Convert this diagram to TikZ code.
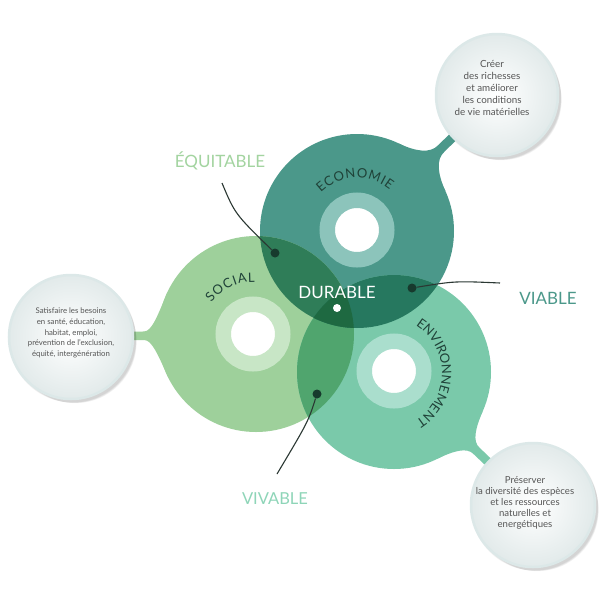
\documentclass[tikz,border=0pt]{standalone}
\usepackage{fontspec}
\setmainfont{Lato}
\usetikzlibrary{decorations.text}
\definecolor{ecoC}{HTML}{4B988A}
\definecolor{socC}{HTML}{9ED09B}
\definecolor{envC}{HTML}{7AC9AA}
\definecolor{esC}{HTML}{2F7D58}
\definecolor{evC}{HTML}{26785F}
\definecolor{svC}{HTML}{50A56E}
\definecolor{esvC}{HTML}{1E6941}
\definecolor{ecoR}{HTML}{8CC4BB}
\definecolor{socR}{HTML}{C8E6C6}
\definecolor{envR}{HTML}{AADECD}
\definecolor{arcT}{HTML}{1F4238}
\definecolor{lineC}{HTML}{2B3833}
\definecolor{dotC}{HTML}{173A2D}
\definecolor{bubT}{HTML}{555555}
\definecolor{bubB}{HTML}{DCE8E8}
\definecolor{bubO}{HTML}{E2EAEA}
\definecolor{equiC}{HTML}{A3D4A0}
\definecolor{viabC}{HTML}{4B988A}
\definecolor{vivaC}{HTML}{8ED5B8}
% tail: color, cx, cy, r, axis angle, half spread, neck dist, end dist
\newcommand{\mytail}[8]{%
  \begin{scope}[shift={(#2,#3)}]
    \fill[#1] ({#5-#6}:#4) .. controls ({#5-0.45*#6}:{1.02*#4}) and ({#5-2.2}:{#4+0.45*(#7-#4)}) .. ({#5-2.2}:#7)
      -- ({#5-1.7}:#8) -- ({#5+1.7}:#8) -- ({#5+2.2}:#7)
      .. controls ({#5+2.2}:{#4+0.45*(#7-#4)}) and ({#5+0.45*#6}:{1.02*#4}) .. ({#5+#6}:#4) -- cycle;
  \end{scope}}
\newcommand{\bubshadow}[3]{%
  \foreach \k in {0,1,2,3}{\fill[black,opacity=0.045] ({#1+1.5+\k},{#2+2+\k}) circle[radius={#3+1.5-\k*0.8}];}}
\begin{document}
\begin{tikzpicture}[x=1pt,y=-1pt,
  ringnode/.style={circle, inner sep=0pt, fill=white, line width=15.5pt, minimum size=59.5pt},
  dotnode/.style={circle, inner sep=0pt, fill=dotC, minimum size=9pt},
  conn/.style={draw=lineC, line width=1.1pt},
  bubble/.style={circle, inner sep=0pt, minimum size=122pt, inner color=white, outer color=bubO, draw=bubB, line width=2.5pt},
  btext/.style={align=center, text=bubT, inner sep=0pt},
  biglabel/.style={inner sep=0pt, font=\fontsize{17}{20}\selectfont},
]
\useasboundingbox (0,0) rectangle (600,600);
\fill[white] (0,0) rectangle (600,600);

\coordinate (E) at (357,231);
\coordinate (S) at (256,334);
\coordinate (V) at (394,372);

% tails
\mytail{ecoC}{357}{231}{97}{-44.4}{20}{118}{150}
\mytail{socC}{256}{334}{98}{179.1}{26}{112}{135}
\mytail{envC}{394}{372}{97}{43.7}{20}{114}{145}

% circles
\fill[ecoC] (E) circle[radius=97pt];
\fill[socC] (S) circle[radius=98pt];
\fill[envC] (V) circle[radius=97pt];

% overlaps
\begin{scope}
  \clip (S) circle[radius=98pt];
  \fill[svC] (V) circle[radius=97pt];
\end{scope}
\begin{scope}
  \clip (E) circle[radius=97pt];
  \fill[esC] (S) circle[radius=98pt];
  \fill[evC] (V) circle[radius=97pt];
  \clip (S) circle[radius=98pt];
  \fill[esvC] (V) circle[radius=97pt];
\end{scope}

% rings
\node[ringnode, draw=ecoR] (ecoring) at (357,230) {};
\node[ringnode, draw=socR] (socring) at (253,334) {};
\node[ringnode, draw=envR] (envring) at (394,371) {};

% curved titles
\path[decorate, decoration={text along path, text align={fit to path},
  text={|\fontsize{13}{15}\selectfont\color{arcT}|ECONOMIE}}]
  (357,230) ++(-134:52) arc[start angle=-134, end angle=-51, radius=52];
\path[decorate, decoration={text along path, text align={fit to path},
  text={|\fontsize{13}{15}\selectfont\color{arcT}|SOCIAL}}]
  (253,334) ++(-143:52) arc[start angle=-143, end angle=-88, radius=52];
\path[decorate, decoration={text along path, text align={fit to path},
  text={|\fontsize{13}{15}\selectfont\color{arcT}|ENVIRONNEMENT}}]
  (386,373) ++(-58:56) arc[start angle=-58, end angle=58, radius=56];

% centre
\node[biglabel, text=white] (dur) at (337,292) {DURABLE};
\node[circle, inner sep=0pt, fill=white, minimum size=8pt] (dc) at (337,308) {};

% labels and connectors
\node[biglabel, text=equiC] (equi) at (220,161) {ÉQUITABLE};
\node[biglabel, text=viabC] (viab) at (548,298) {VIABLE};
\node[biglabel, font=\fontsize{16.5}{20}\selectfont, text=vivaC] (viva) at (275,499) {VIVABLE};

\node[dotnode] (d1) at (275,253) {};
\node[dotnode] (d2) at (412,288) {};
\node[dotnode] (d3) at (317,394) {};

\coordinate (c1) at (222,183);
\coordinate (c2) at (500,283);
\coordinate (c3) at (277,474);
\draw[conn] (c1) .. controls (235,214) .. (d1);
\draw[conn] (c2) .. controls (455,281) .. (d2);
\draw[conn] (c3) .. controls (308,422) .. (d3);

% bubbles
\bubshadow{497}{95}{61}
\bubshadow{71}{337}{62}
\bubshadow{533}{505}{62}
\node[bubble] (b1) at (497,95) {};
\node[bubble, minimum size=124pt] (b2) at (71,337) {};
\node[bubble, minimum size=124pt] (b3) at (533,505) {};

\node[btext, font=\fontsize{9.8}{12.2}\selectfont] (t1) at (492,88)
  {Créer\\des richesses\\et améliorer\\les conditions\\de vie matérielles};
\node[btext, font=\fontsize{7.8}{10.8}\selectfont] (t2) at (71,333)
  {Satisfaire les besoins\\en santé, éducation,\\habitat, emploi,\\prévention de l’exclusion,\\équité, intergénération};
\node[btext, font=\fontsize{9.6}{10.9}\selectfont] (t3) at (525,503)
  {Préserver\\la diversité des espèces\\et les ressources\\naturelles et\\energétiques};
\end{tikzpicture}
\end{document}
